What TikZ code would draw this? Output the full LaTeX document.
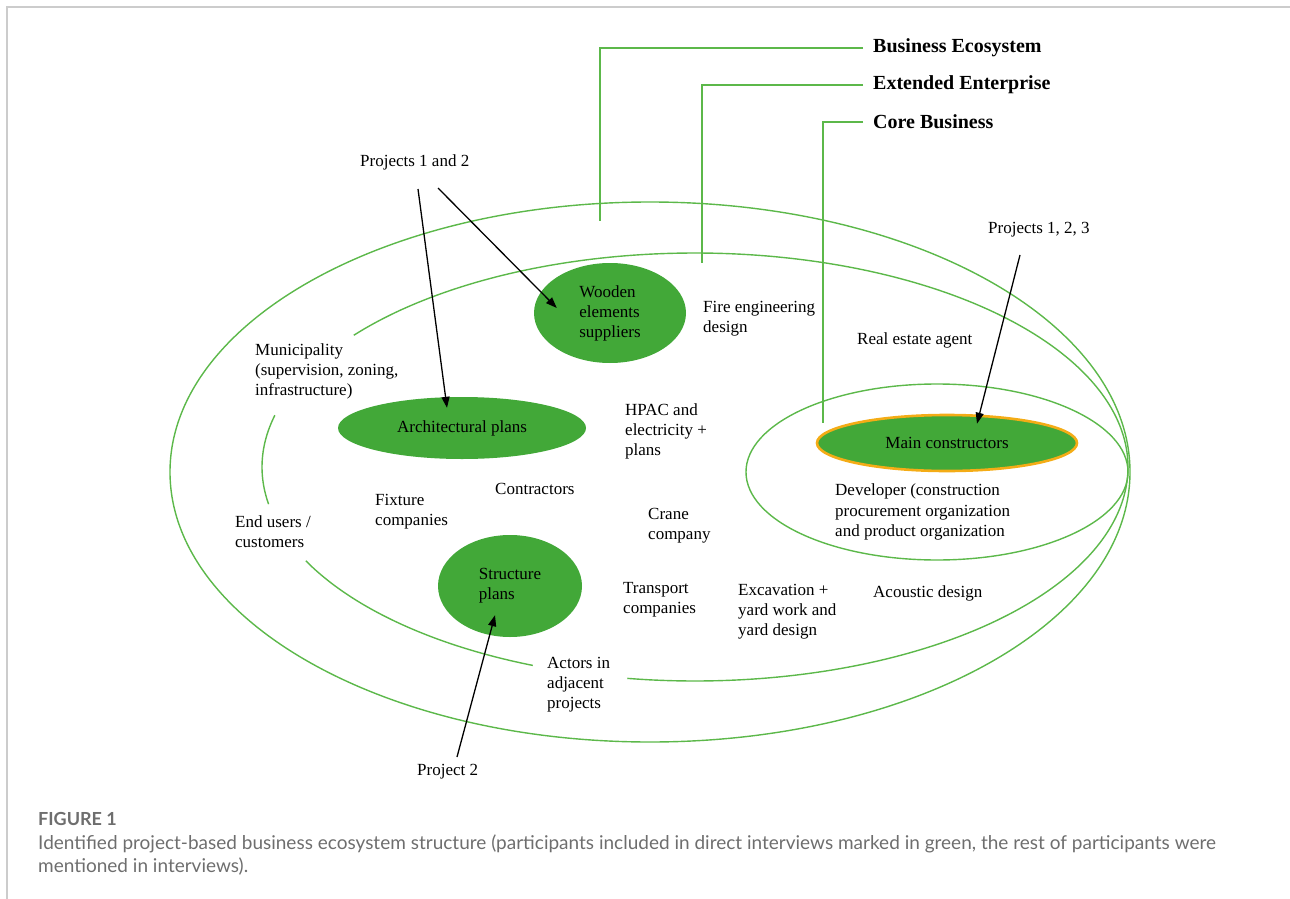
\documentclass[tikz,border=0pt]{standalone}
\usepackage{fontspec}
\setmainfont{Liberation Serif}
\newfontfamily\capfont{Lato}
\usetikzlibrary{arrows.meta,shapes.geometric,calc}
\definecolor{eco}{RGB}{92,184,74}
\definecolor{fillg}{RGB}{66,168,56}
\definecolor{orng}{RGB}{244,172,22}
\definecolor{framec}{RGB}{204,204,204}
\definecolor{capgrey}{RGB}{110,110,110}
\begin{document}
\begin{tikzpicture}[x=1bp,y=-1bp,
  ring/.style={draw=eco, line width=1.4bp},
  lbl/.style={inner sep=0, anchor=north west, align=left, font=\fontsize{17bp}{20bp}\selectfont},
  head/.style={inner sep=0, anchor=west, font=\fontsize{20bp}{24bp}\selectfont\bfseries},
  blob/.style={ellipse, fill=fillg, inner sep=0, align=left, font=\fontsize{17bp}{20bp}\selectfont},
  arr/.style={-{Triangle[length=11bp,width=8bp]}, line width=1.3bp, black},
]
\useasboundingbox (0,0) rectangle (1290,899);
% page frame
\draw[framec, line width=1.6bp] (7,899) -- (7,7) -- (1290,7);

% rings
\draw[ring] (650,472) ellipse [x radius=480, y radius=270];
\draw[ring] plot[domain=218:459, samples=160, smooth] ({695+433*cos(\x)},{467+214*sin(\x)});
\draw[ring] plot[domain=112:154, samples=40, smooth] ({695+433*cos(\x)},{467+214*sin(\x)});
\draw[ring] plot[domain=170:194, samples=30, smooth] ({695+433*cos(\x)},{467+214*sin(\x)});
\draw[ring] (937,472) ellipse [x radius=191, y radius=88];

% ring labels
\node[head] (be) at (873,48) {Business Ecosystem};
\node[head] (ee) at (873,85) {Extended Enterprise};
\node[head] (cb) at (873,122) {Core Business};
\coordinate (beEnd) at (600,221);
\coordinate (eeEnd) at (702,263);
\coordinate (cbEnd) at (823,423);
\draw[ring] ([xshift=-10bp]be.west) -| (beEnd);
\draw[ring] ([xshift=-10bp]ee.west) -| (eeEnd);
\draw[ring] ([xshift=-10bp]cb.west) -| (cbEnd);

% green participants
\node[blob, minimum width=152bp, minimum height=100bp] (wood) at (610,313) {Wooden\\elements\\suppliers};
\node[blob, minimum width=248bp, minimum height=62bp] (arch) at (462,428) {Architectural plans};
\node[blob, minimum width=144bp, minimum height=102bp] (struct) at (510,586) {Structure\\plans};
\node[blob, draw=orng, line width=2.6bp, minimum width=260bp, minimum height=56bp] (mainc) at (947,443) {Main constructors};

% other participants
\node[lbl] (p12) at (360,155) {Projects 1 and 2};
\node[lbl] (p123) at (988,222) {Projects 1, 2, 3};
\node[lbl] (muni) at (255,344) {Municipality\\(supervision, zoning,\\infrastructure)};
\node[lbl] (fire) at (703,301) {Fire engineering\\design};
\node[lbl] (real) at (857,333) {Real estate agent};
\node[lbl] (hpac) at (625,404) {HPAC and\\electricity +\\plans};
\node[lbl] (contr) at (495,483) {Contractors};
\node[lbl] (fixt) at (375,494) {Fixture\\companies};
\node[lbl] (endu) at (235,515) {End users /\\customers};
\node[lbl] (crane) at (648,508) {Crane\\company};
\node[lbl] (trans) at (623,582) {Transport\\companies};
\node[lbl] (exca) at (738,584) {Excavation +\\yard work and\\yard design};
\node[lbl] (acou) at (873,585) {Acoustic design};
\node[lbl] (dev) at (835,484) {Developer (construction\\procurement organization\\and product organization};
\node[lbl] (actors) at (547,657) {Actors in\\adjacent\\projects};
\node[lbl] (p2) at (417,764) {Project 2};

% arrows
\coordinate (a1s) at (418,189);
\coordinate (a2s) at (438,188);
\coordinate (a3s) at (457,757);
\coordinate (a4s) at (1020,255);
\coordinate (a1e) at ([shift={(-15,11)}]arch.north);
\coordinate (a2e) at ([shift={(23,-5)}]wood.west);
\coordinate (a3e) at ([shift={(-15,-22)}]struct.south);
\coordinate (a4e) at ([shift={(30,10)}]mainc.north);
\draw[arr] (a1s) -- (a1e);
\draw[arr] (a2s) -- (a2e);
\draw[arr] (a3s) -- (a3e);
\draw[arr] (a4s) -- (a4e);

% caption
\node[inner sep=0, anchor=west, text=capgrey, font=\capfont\bfseries\fontsize{18bp}{20bp}\selectfont] (fig) at (38,819) {FIGURE 1};
\node[inner sep=0, anchor=north west, align=left, text=capgrey, font=\capfont\fontsize{19bp}{23bp}\selectfont] (cap) at (38,835) {Identified project-based business ecosystem structure (participants included in direct interviews marked in green, the rest of participants were\\mentioned in interviews).};
\end{tikzpicture}
\end{document}
